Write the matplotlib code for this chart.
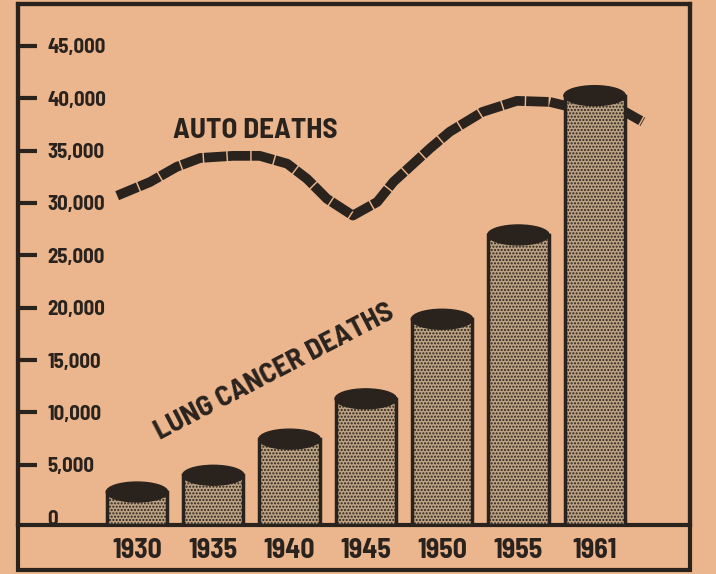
import numpy as np
import matplotlib
matplotlib.use('Agg')
import matplotlib.pyplot as plt
from matplotlib.patches import Ellipse, Rectangle

# datos
anios = ['1930', '1935', '1940', '1945', '1950', '1955', '1961']
cancer_pulmon = [2400, 4000, 7450, 11300, 18900, 26950, 40250]

# curva de muertes en auto (posicion en el eje de categorias, valor)
auto_pos = [-0.26, 0.17, 0.52, 0.83, 1.26, 1.61, 1.97, 2.23, 2.49, 2.83,
            3.15, 3.36, 3.84, 4.10, 4.53, 4.98, 5.41, 5.61, 6.40, 6.63]
auto_val = [30700, 32000, 33450, 34300, 34500, 34500, 33750, 32300, 30400, 28800,
            30100, 32000, 35200, 36800, 38700, 39750, 39650, 39300, 38700, 37750]

y_ticks = [0, 5000, 10000, 15000, 20000, 25000, 30000, 35000, 40000, 45000]

papel = '#ebb68e'
tinta = '#2a221d'
fuente = ['Barlow Semi Condensed', 'Liberation Sans Narrow', 'DejaVu Sans']
plt.rcParams['font.family'] = fuente
plt.rcParams['font.weight'] = 'bold'
plt.rcParams['hatch.color'] = tinta
plt.rcParams['hatch.linewidth'] = 1.0

fig = plt.figure(figsize=(7.16, 5.74), dpi=100, facecolor=papel)
W, H = 716, 574
ax = fig.add_axes([18 / W, 1 - 525 / H, (690 - 18) / W, (525 - 4) / H])
ax.set_facecolor(papel)

base = -750
x = np.arange(len(anios))
ancho = 0.79

ax.plot(auto_pos, auto_val, color=tinta, lw=7, dashes=(2.3, 0.15),
        dash_capstyle='butt', solid_joinstyle='round', zorder=2)

ax.bar(x, np.array(cancer_pulmon) - base, bottom=base, width=ancho,
       color='#bca283', edgecolor=tinta, linewidth=2.5, hatch='.....', zorder=3)
for xi, v in zip(x, cancer_pulmon):
    ax.add_patch(Ellipse((xi, v), ancho * 1.02, 1900, color=tinta, zorder=4))

ax.set_xlim(-1.56, 7.25)
ax.set_ylim(base, 49000)

ax.set_xticks(x)
ax.set_xticklabels(anios, fontsize=20, fontweight='bold', color=tinta)
ax.tick_params(axis='x', length=0, pad=9)

ax.set_yticks(y_ticks)
ax.set_yticklabels([f'{v:,}' for v in y_ticks], fontsize=15, fontweight='bold',
                   color=tinta, ha='left')
ax.tick_params(axis='y', direction='in', length=14, width=3, color=tinta, pad=-21)
ax.yaxis.get_major_ticks()[0].tick1line.set_visible(False)

for lado in ['left', 'bottom', 'top', 'right']:
    ax.spines[lado].set_color(tinta)
    ax.spines[lado].set_linewidth(3)

ax.text(1.55, 36900, 'AUTO DEATHS', fontsize=21, fontweight='bold', color=tinta,
        ha='center', va='center')
ax.text(1.8, 13900, 'LUNG CANCER DEATHS', fontsize=21, fontweight='bold', color=tinta,
        ha='center', va='center', rotation=27.5, rotation_mode='anchor')

# marco exterior con la banda de los anios
fig.patches.append(Rectangle((18 / W, 1 - 570 / H), (690 - 18) / W, (570 - 4) / H,
                             transform=fig.transFigure, fill=False,
                             edgecolor=tinta, linewidth=3))

fig.savefig('out.png', dpi=100, facecolor=papel)
